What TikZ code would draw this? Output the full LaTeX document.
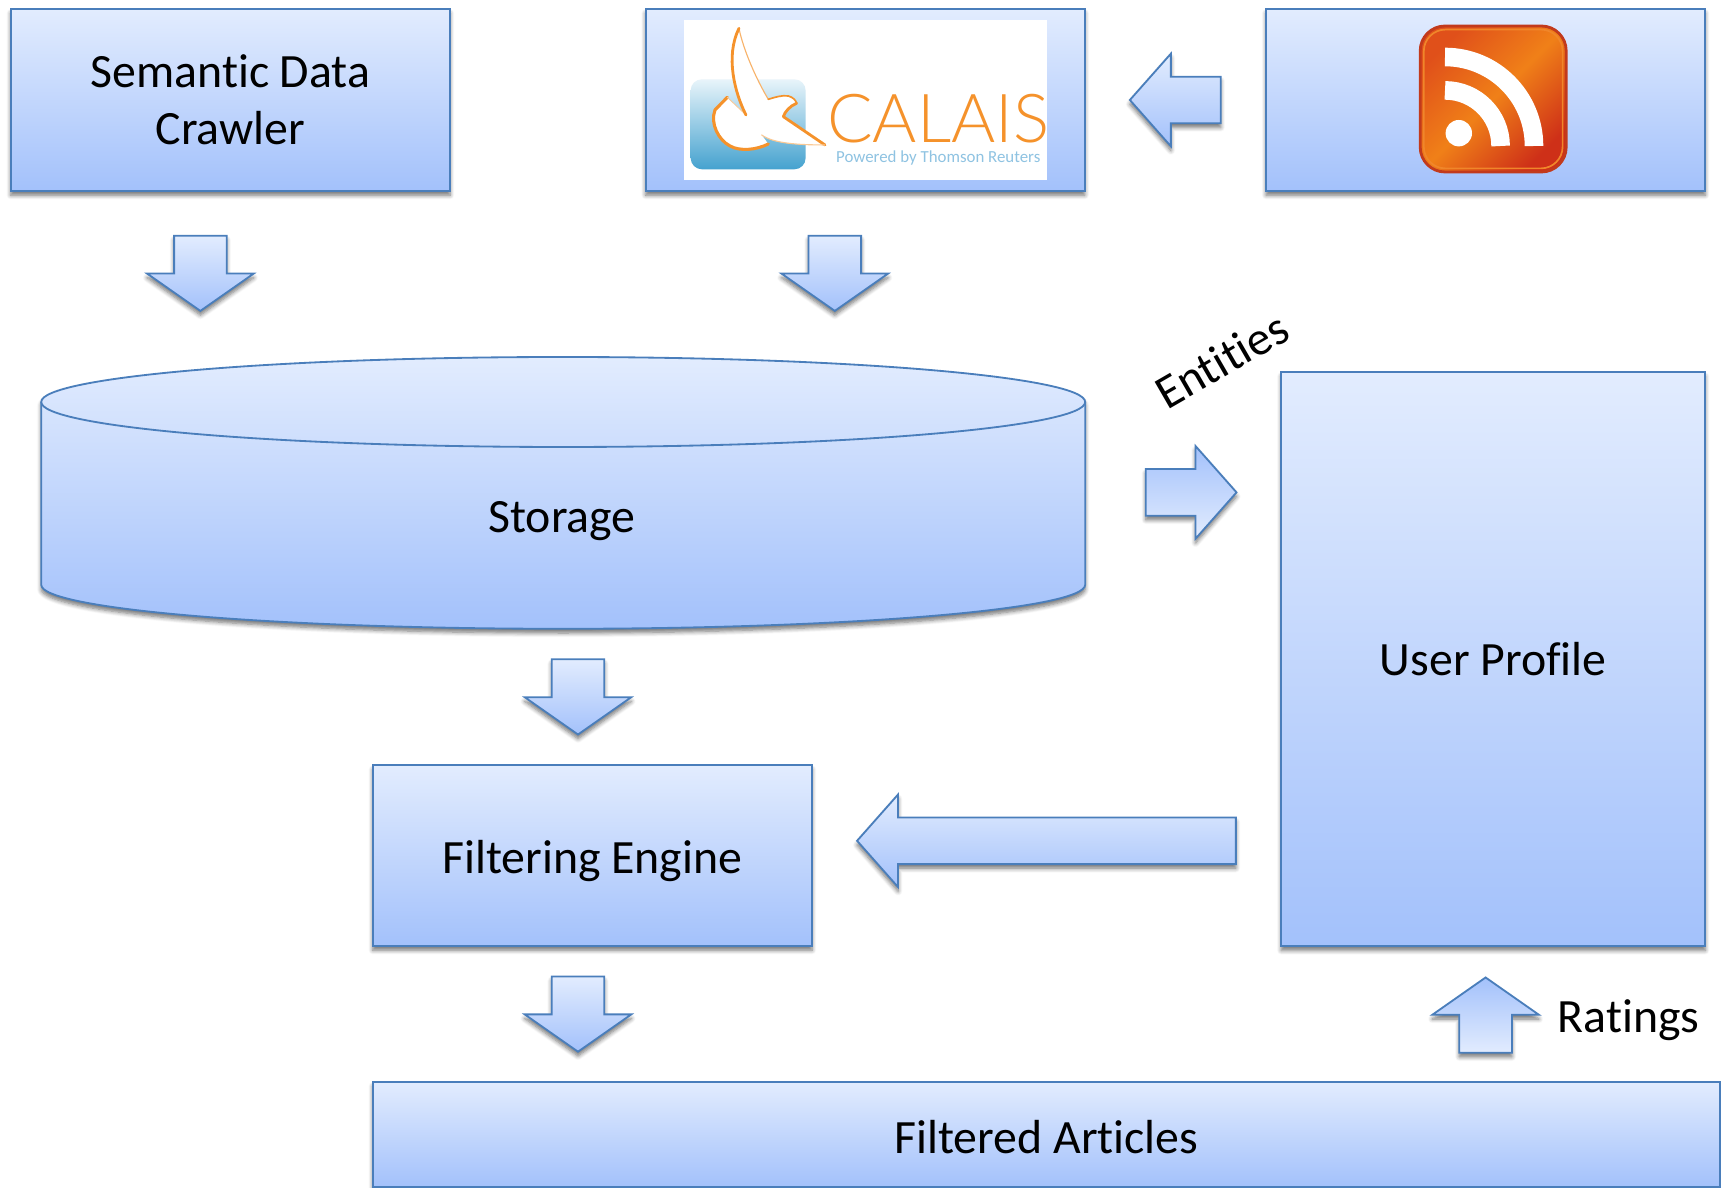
\documentclass[tikz,border=0pt]{standalone}
\usepackage{fontspec}
\setmainfont{Carlito}[RawFeature={-liga;-clig;-dlig}]
\newfontfamily\logofont{Lato Light}
\usetikzlibrary{positioning}
\usetikzlibrary{shapes.arrows}
\usetikzlibrary{shadings}
\usetikzlibrary{shadows.blur}
\definecolor{boxtop}{HTML}{E2ECFE}
\definecolor{boxbottom}{HTML}{A3C1FB}
\definecolor{boxline}{HTML}{4A7EBB}
\definecolor{calaisorange}{HTML}{F5922B}
\definecolor{calaisblue}{HTML}{8FC3E2}
\definecolor{squaretop}{HTML}{E8F4FA}
\definecolor{squarebottom}{HTML}{45A2CF}
\definecolor{icontop}{HTML}{E0501A}
\definecolor{iconmid}{HTML}{F08018}
\definecolor{iconbottom}{HTML}{CE3018}
\definecolor{iconline}{HTML}{C23A1C}
\definecolor{iconrim}{HTML}{F0862A}

\begin{document}
\begin{tikzpicture}[
        every node/.style={font=\fontsize{34}{40.6}\selectfont},
        grad/.style={draw=boxline, line width=1.3pt, top color=boxtop, bottom color=boxbottom,
            blur shadow={shadow xshift=0pt, shadow yshift=-3pt, shadow blur radius=3pt, shadow blur steps=6, shadow opacity=55}},
        n/.style={grad, rectangle, align=center, inner sep=0pt},
        a/.style={grad, single arrow, anchor=tail, single arrow head indent=0pt},
        small/.style={a, inner xsep=.635cm, inner ysep=0pt, minimum height=1.88cm, minimum width=2.62cm, single arrow head extend=.675cm, single arrow tip angle=110},
        mid/.style={a, inner xsep=0pt, inner ysep=.56cm, minimum width=2.27cm, single arrow head extend=.575cm, single arrow tip angle=97},
        flip/.style={top color=boxbottom, bottom color=boxtop},
        wave/.style={draw=white, line width=.465cm},
        bird/.style={draw=calaisorange, line cap=round, line join=round}
    ]
        \useasboundingbox (0, 0) rectangle (43.025, 29.7);

        \node[n, minimum width=10.98cm, minimum height=4.55cm] (crawler) at (5.76, 27.2) {Semantic Data\\Crawler};
        \node[n, minimum width=10.98cm, minimum height=4.55cm] (calais) at (21.63, 27.2) {};
        \node[n, minimum width=10.98cm, minimum height=4.55cm] (feed) at (37.14, 27.2) {};
        \node[n, minimum width=10.6cm, minimum height=14.35cm] (profile) at (37.33, 13.22) {User Profile};
        \node[n, minimum width=10.98cm, minimum height=4.52cm] (engine) at (14.81, 8.31) {\raisebox{-12.5pt}[0pt][0pt]{Filtering Engine}};
        \node[n, minimum width=33.68cm, minimum height=2.62cm] (articles) at (26.16, 1.34) {\raisebox{-13.8pt}[0pt][0pt]{Filtered Articles}};

        \draw[grad] (1.03, 19.65) -- (1.03, 15.08) arc[start angle=180, end angle=360, x radius=13.05, y radius=1.1]
            -- (27.13, 19.65) arc[start angle=0, end angle=180, x radius=13.05, y radius=1.125] -- cycle;
        \draw[draw=boxline, line width=1.3pt] (1.03, 19.65) arc[start angle=180, end angle=360, x radius=13.05, y radius=1.125];
        \node (storage) at (14.05, 16.67) {Storage};

        \node[small, shape border rotate=270] (a1) at (5.01, 23.83) {};
        \node[small, shape border rotate=270] (a2) at (20.87, 23.83) {};
        \node[small, shape border rotate=270] (a3) at (14.45, 13.24) {};
        \node[small, shape border rotate=270] (a4) at (14.45, 5.31) {};
        \node[small, flip, shape border rotate=90] (a5) at (37.14, 3.36) {};
        \node[mid, minimum height=2.27cm, shape border rotate=180] (a6) at (30.54, 27.2) {};
        \node[mid, flip, minimum height=2.27cm] (a7) at (28.62, 17.39) {};
        \node[mid, minimum height=9.47cm, shape border rotate=180] (a8) at (30.92, 8.68) {};

        \node[rotate=30] (entities) at (30.54, 20.7) {Entities};
        \node (ratings) at (40.72, 4.2) {Ratings};

        \begin{scope}[shift={(16, 29.7)}, x=.008333cm, y=-.008333cm]
            \fill[white] (132, 60) rectangle (1221, 540);
            \shade[top color=squaretop, bottom color=squarebottom, rounded corners=.28cm] (152, 238) rectangle (497, 508);
            \fill[white] (297, 85) .. controls (310, 150) and (350, 240) .. (385, 298)
                .. controls (405, 292) and (425, 285) .. (445, 288) .. controls (460, 292) and (468, 302) .. (470, 310)
                .. controls (450, 318) and (435, 335) .. (430, 350) -- (555, 435)
                .. controls (470, 435) and (400, 430) .. (365, 405) -- (385, 432)
                .. controls (350, 450) and (300, 455) .. (270, 438) .. controls (235, 420) and (210, 370) .. (225, 330) -- (262, 292)
                -- (318, 345) .. controls (285, 280) and (255, 170) .. cycle;
            \draw[bird, line width=.8pt, draw=calaisorange!70] (297, 85) .. controls (310, 150) and (350, 240) .. (385, 298);
            \draw[bird, line width=1.2pt] (385, 298) .. controls (405, 292) and (425, 285) .. (445, 288)
                .. controls (460, 292) and (468, 302) .. (470, 310);
            \draw[bird, line width=2pt] (470, 310) .. controls (450, 318) and (435, 335) .. (430, 350) -- (555, 435);
            \draw[bird, line width=.8pt, draw=calaisorange!50] (555, 435) .. controls (470, 435) and (400, 430) .. (365, 405);
            \draw[bird, line width=2.2pt] (385, 432) .. controls (350, 450) and (300, 455) .. (270, 438)
                .. controls (235, 420) and (210, 370) .. (225, 330) -- (262, 292);
            \draw[bird, line width=.6pt, draw=calaisorange!50] (262, 292) -- (318, 345);
            \draw[bird, line width=2pt] (318, 345) .. controls (285, 280) and (255, 170) .. (297, 85);
            \node[text=calaisorange, font=\logofont\fontsize{48}{48}\selectfont] (calaisname) at (895, 355) {CALAIS};
            \node[text=calaisblue, font=\fontsize{12}{14}\selectfont] (calaisline) at (895, 475) {Powered by Thomson Reuters};
        \end{scope}

        \node[rectangle, rounded corners=.62cm, minimum size=3.65cm, draw=iconline, line width=2pt,
            top color=icontop, bottom color=iconbottom, middle color=iconmid, shading angle=45] (icon) at (37.33, 27.225) {};
        \node[rectangle, rounded corners=.54cm, minimum size=3.47cm, draw=iconrim, line width=1.2pt] (rim) at (icon) {};
        \coordinate (origin) at (36.125, 26.05);
        \draw[wave] ([yshift=2.225cm]origin) arc[start angle=90, end angle=0, radius=2.225];
        \draw[wave] ([yshift=1.39cm]origin) arc[start angle=90, end angle=0, radius=1.39];
        \fill[white] (36.47, 26.37) circle (.33);
    \end{tikzpicture}
\end{document}
